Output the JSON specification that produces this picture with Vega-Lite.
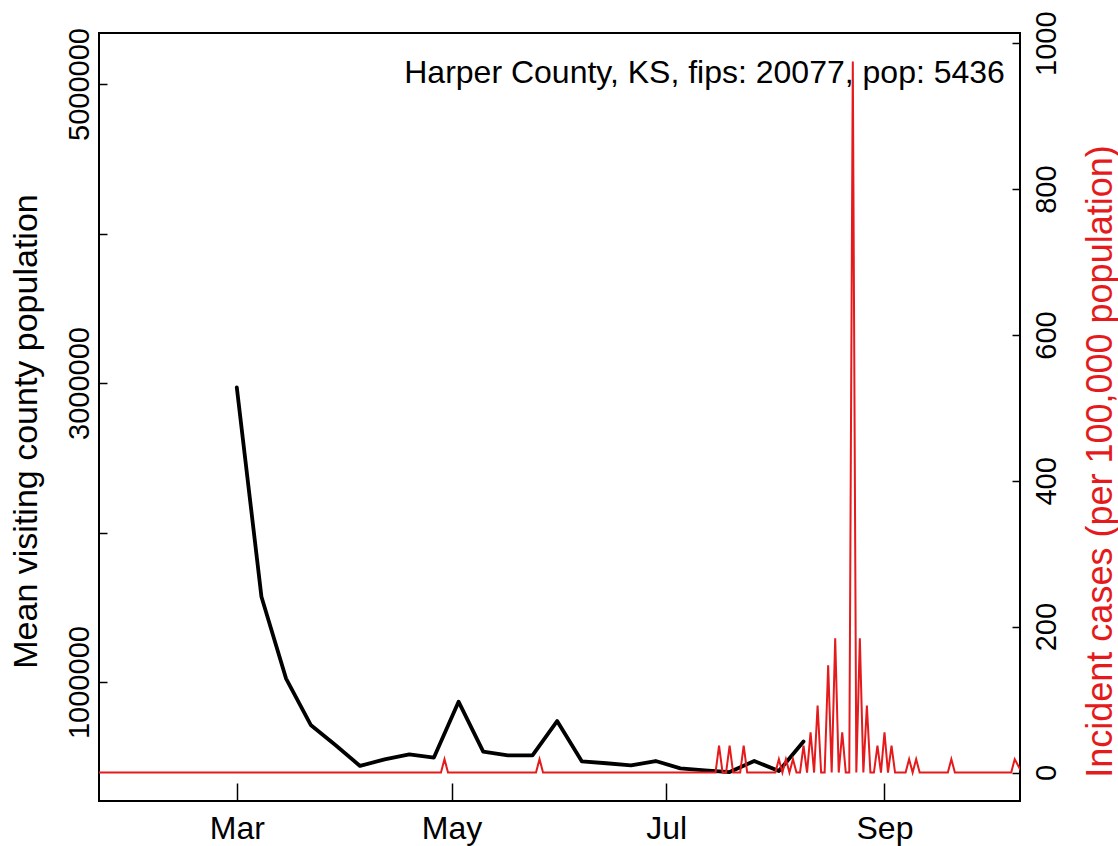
{
  "$schema": "https://vega.github.io/schema/vega-lite/v6.json",
  "width": 921,
  "height": 768,
  "autosize": {"type": "none"},
  "padding": {"left": 99, "top": 33, "right": 98, "bottom": 45},
  "background": "white",
  "config": {
    "view": {"stroke": "black", "strokeWidth": 2},
    "font": "Liberation Sans",
    "axis": {"grid": false, "domain": false, "ticks": true, "tickColor": "black", "tickWidth": 1.5, "labelColor": "black", "labelFont": "Liberation Sans", "titleFont": "Liberation Sans", "titleFontWeight": "normal", "labelOverlap": false, "labelFlush": false}
  },
  "datasets": {
    "mobility": [
      {"date": "2020-03-01", "visitors": 2970000},
      {"date": "2020-03-08", "visitors": 1571000},
      {"date": "2020-03-15", "visitors": 1023000},
      {"date": "2020-03-22", "visitors": 713000},
      {"date": "2020-03-29", "visitors": 579000},
      {"date": "2020-04-05", "visitors": 439000},
      {"date": "2020-04-12", "visitors": 483000},
      {"date": "2020-04-19", "visitors": 517000},
      {"date": "2020-04-26", "visitors": 495000},
      {"date": "2020-05-03", "visitors": 869000},
      {"date": "2020-05-10", "visitors": 535000},
      {"date": "2020-05-17", "visitors": 510000},
      {"date": "2020-05-24", "visitors": 510000},
      {"date": "2020-05-31", "visitors": 739000},
      {"date": "2020-06-07", "visitors": 470000},
      {"date": "2020-06-14", "visitors": 457000},
      {"date": "2020-06-21", "visitors": 443000},
      {"date": "2020-06-28", "visitors": 472000},
      {"date": "2020-07-05", "visitors": 423000},
      {"date": "2020-07-12", "visitors": 410000},
      {"date": "2020-07-19", "visitors": 398000},
      {"date": "2020-07-26", "visitors": 472000},
      {"date": "2020-08-02", "visitors": 405000},
      {"date": "2020-08-09", "visitors": 602000}
    ],
    "cases": [
      {"date": "2020-01-21", "incidence": 0},
      {"date": "2020-04-28", "incidence": 0},
      {"date": "2020-04-29", "incidence": 18.4},
      {"date": "2020-04-30", "incidence": 0},
      {"date": "2020-05-25", "incidence": 0},
      {"date": "2020-05-26", "incidence": 18.4},
      {"date": "2020-05-27", "incidence": 0},
      {"date": "2020-07-15", "incidence": 0},
      {"date": "2020-07-16", "incidence": 36.79},
      {"date": "2020-07-17", "incidence": 0},
      {"date": "2020-07-18", "incidence": 0},
      {"date": "2020-07-19", "incidence": 36.79},
      {"date": "2020-07-20", "incidence": 0},
      {"date": "2020-07-22", "incidence": 0},
      {"date": "2020-07-23", "incidence": 36.79},
      {"date": "2020-07-24", "incidence": 0},
      {"date": "2020-08-01", "incidence": 0},
      {"date": "2020-08-02", "incidence": 18.4},
      {"date": "2020-08-03", "incidence": 0},
      {"date": "2020-08-04", "incidence": 18.4},
      {"date": "2020-08-05", "incidence": 0},
      {"date": "2020-08-06", "incidence": 18.4},
      {"date": "2020-08-07", "incidence": 0},
      {"date": "2020-08-08", "incidence": 0},
      {"date": "2020-08-09", "incidence": 36.79},
      {"date": "2020-08-10", "incidence": 0},
      {"date": "2020-08-11", "incidence": 55.19},
      {"date": "2020-08-12", "incidence": 0},
      {"date": "2020-08-13", "incidence": 91.98},
      {"date": "2020-08-14", "incidence": 0},
      {"date": "2020-08-15", "incidence": 0},
      {"date": "2020-08-16", "incidence": 147.17},
      {"date": "2020-08-17", "incidence": 0},
      {"date": "2020-08-18", "incidence": 183.96},
      {"date": "2020-08-19", "incidence": 0},
      {"date": "2020-08-20", "incidence": 55.19},
      {"date": "2020-08-21", "incidence": 0},
      {"date": "2020-08-22", "incidence": 0},
      {"date": "2020-08-23", "incidence": 974.98},
      {"date": "2020-08-24", "incidence": 0},
      {"date": "2020-08-25", "incidence": 183.96},
      {"date": "2020-08-26", "incidence": 0},
      {"date": "2020-08-27", "incidence": 91.98},
      {"date": "2020-08-28", "incidence": 0},
      {"date": "2020-08-29", "incidence": 0},
      {"date": "2020-08-30", "incidence": 36.79},
      {"date": "2020-08-31", "incidence": 0},
      {"date": "2020-09-01", "incidence": 55.19},
      {"date": "2020-09-02", "incidence": 0},
      {"date": "2020-09-03", "incidence": 36.79},
      {"date": "2020-09-04", "incidence": 0},
      {"date": "2020-09-07", "incidence": 0},
      {"date": "2020-09-08", "incidence": 18.4},
      {"date": "2020-09-09", "incidence": 0},
      {"date": "2020-09-10", "incidence": 18.4},
      {"date": "2020-09-11", "incidence": 0},
      {"date": "2020-09-19", "incidence": 0},
      {"date": "2020-09-20", "incidence": 18.4},
      {"date": "2020-09-21", "incidence": 0},
      {"date": "2020-10-07", "incidence": 0},
      {"date": "2020-10-08", "incidence": 18.4},
      {"date": "2020-10-10", "incidence": 0}
    ]
  },
  "layer": [
    {
      "data": {"name": "mobility"},
      "mark": {"type": "line", "color": "black", "strokeWidth": 3.8, "strokeJoin": "round", "strokeCap": "round"},
      "encoding": {
        "x": {
          "field": "date", "type": "temporal",
          "scale": {"type": "utc", "domain": [1579638240000, 1602244800000]},
          "axis": {"orient": "bottom", "values": [1583020800000, 1588291200000, 1593561600000, 1598918400000], "labelExpr": "utcFormat(datum.value, '%b')", "title": null, "tickSize": -18, "labelPadding": 30, "labelFontSize": 32, "labelAngle": 0}
        },
        "y": {
          "field": "visitors", "type": "quantitative",
          "scale": {"domain": [204500, 5341000], "zero": false, "nice": false},
          "axis": {
            "orient": "left", "values": [1000000, 2000000, 3000000, 4000000, 5000000], "format": "d",
            "labelExpr": "datum.value == 2000000 || datum.value == 4000000 ? '' : datum.label",
            "tickSize": -8, "labelPadding": 19, "labelAngle": -90, "labelAlign": "center", "labelBaseline": "alphabetic", "labelFontSize": 29,
            "title": "Mean visiting county population", "titleFontSize": 34, "titleAngle": -90, "titleX": -63, "titleY": 398,
            "titleAlign": "center", "titleBaseline": "alphabetic", "titleColor": "black"
          }
        }
      }
    },
    {
      "data": {"name": "cases"},
      "mark": {"type": "line", "color": "#E41A1C", "strokeWidth": 2, "clip": true},
      "encoding": {
        "x": {
          "field": "date", "type": "temporal",
          "scale": {"type": "utc", "domain": [1579638240000, 1602244800000]},
          "axis": {"orient": "bottom", "values": [1583020800000, 1588291200000, 1593561600000, 1598918400000], "labelExpr": "utcFormat(datum.value, '%b')", "title": null, "tickSize": -18, "labelPadding": 30, "labelFontSize": 32, "labelAngle": 0}
        },
        "y": {
          "field": "incidence", "type": "quantitative",
          "scale": {"domain": [-39, 1014], "zero": false, "nice": false},
          "axis": {
            "orient": "right", "values": [0, 200, 400, 600, 800, 1000], "format": "d",
            "tickSize": -8, "labelPadding": 20, "labelAngle": -90, "labelAlign": "center", "labelBaseline": "top", "labelFontSize": 29,
            "title": "Incident cases (per 100,000 population)", "titleColor": "#E41A1C", "titleFontSize": 36,
            "titleAngle": -90, "titleX": 91, "titleY": 428, "titleAlign": "center", "titleBaseline": "alphabetic"
          }
        }
      }
    },
    {
      "data": {"values": [{"label": "Harper County, KS, fips: 20077, pop: 5436"}]},
      "mark": {"type": "text", "align": "right", "baseline": "alphabetic", "fontSize": 32, "color": "black", "font": "Liberation Sans"},
      "encoding": {
        "x": {
          "datum": 1601874000000, "type": "temporal",
          "scale": {"type": "utc", "domain": [1579638240000, 1602244800000]},
          "axis": {"orient": "bottom", "values": [1583020800000, 1588291200000, 1593561600000, 1598918400000], "labelExpr": "utcFormat(datum.value, '%b')", "title": null, "tickSize": -18, "labelPadding": 30, "labelFontSize": 32, "labelAngle": 0}
        },
        "y": {"datum": 945, "type": "quantitative", "axis": null, "scale": {"domain": [-39, 1014], "zero": false, "nice": false}},
        "text": {"field": "label"}
      }
    }
  ],
  "resolve": {"scale": {"y": "independent"}}
}
